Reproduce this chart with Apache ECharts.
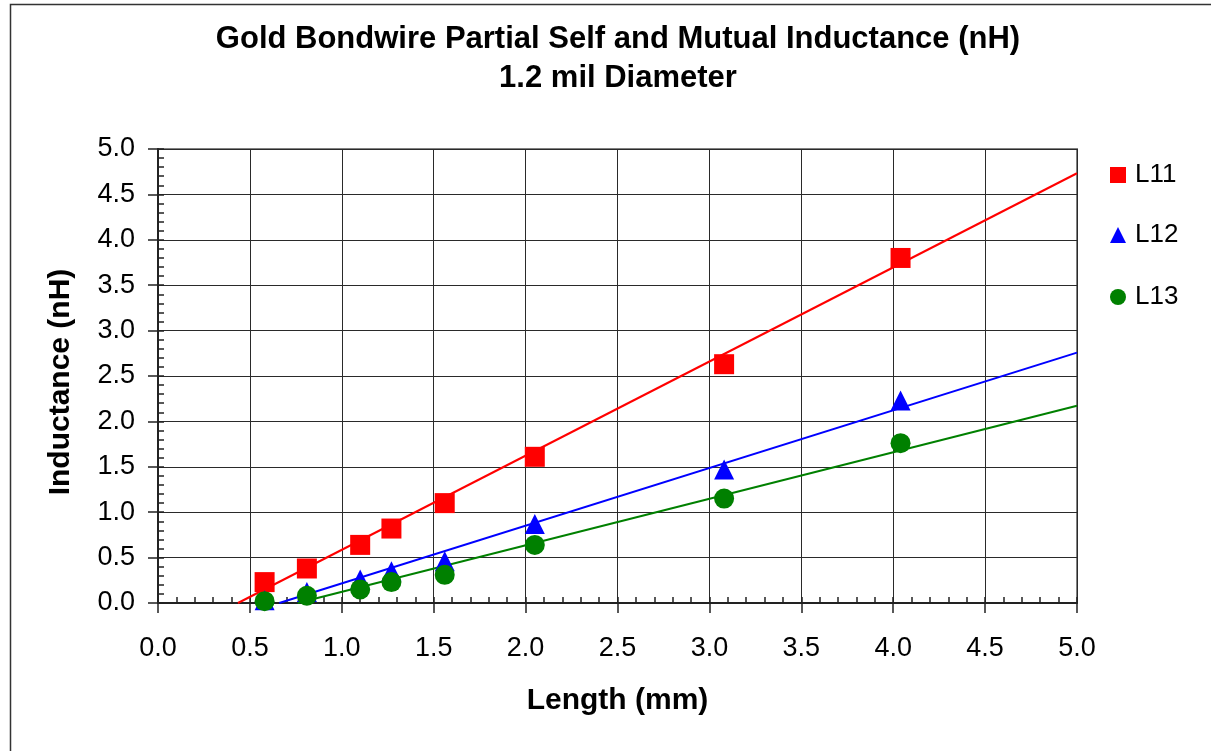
<!DOCTYPE html>
<html>
<head>
<meta charset="utf-8">
<script src="https://cdn.jsdelivr.net/npm/echarts@6/dist/echarts.min.js"></script>
<style>
  html, body { margin: 0; padding: 0; background: #fff; }
  #chart { width: 1211px; height: 751px; }
</style>
</head>
<body>
<div id="chart"></div>
<script>
// ---- data ----
const lengthMm = [0.58, 0.81, 1.10, 1.27, 1.56, 2.05, 3.08, 4.04];
const L11 = [0.23, 0.38, 0.64, 0.82, 1.10, 1.61, 2.63, 3.80];
const L12 = [0.03, 0.12, 0.26, 0.35, 0.46, 0.87, 1.47, 2.23];
const L13 = [0.02, 0.08, 0.15, 0.23, 0.31, 0.64, 1.15, 1.76];
// trendline end points (x, y)
const trendL11 = [[0.435, 0], [5.0, 4.733]];
const trendL12 = [[0.66, 0], [5.0, 2.757]];
const trendL13 = [[0.76, 0], [5.0, 2.173]];
const seriesNames = ['L11', 'L12', 'L13'];
const titleLine1 = 'Gold Bondwire Partial Self and Mutual Inductance (nH)';
const titleLine2 = '1.2 mil Diameter';
const xName = 'Length (mm)';
const yName = 'Inductance (nH)';

const FONT = '"Liberation Sans", Arial, sans-serif';
const colors = ['#FF0000', '#0000FF', '#008000'];
const symbols = ['rect', 'triangle', 'circle'];

function pts(ys) { return lengthMm.map((x, i) => [x, ys[i]]); }
const fmt = v => v.toFixed(1);

const chart = echarts.init(document.getElementById('chart'), null, { renderer: 'canvas' });

const mainAxisCommon = {
  type: 'value', min: 0, max: 5, interval: 0.5,
  axisLine: { show: true, onZero: false, lineStyle: { color: '#222', width: 2 } },
  axisTick: { show: true, inside: false, length: 10, lineStyle: { color: '#222', width: 1.5 } },
  splitLine: { show: true, lineStyle: { color: '#2a2a2a', width: 1 } },
  axisLabel: { fontFamily: FONT, fontSize: 27, color: '#000', formatter: fmt },
  nameTextStyle: { fontFamily: FONT, fontSize: 30, fontWeight: 'bold', color: '#000' },
  nameLocation: 'middle'
};
const minorAxisCommon = {
  type: 'value', min: 0, max: 5, interval: 0.5,
  axisLine: { show: false },
  axisTick: { show: true, inside: true, length: 6, lineStyle: { color: '#222', width: 1.5 } },
  minorTick: { show: true, splitNumber: 5, length: 6, lineStyle: { color: '#222', width: 1.5 } },
  splitLine: { show: false },
  axisLabel: { show: false }
};

const legendTops = [162, 222, 284];

chart.setOption({
  animation: false,
  backgroundColor: '#fff',
  grid: {
    left: 158, right: 134, top: 149, bottom: 148,
    show: true, borderColor: '#808080', borderWidth: 2, containLabel: false
  },
  graphic: [
    { type: 'rect', shape: { x: 10.5, y: 4.5, width: 1400, height: 1000 },
      style: { fill: null, stroke: '#333', lineWidth: 1.5 }, silent: true, z: -10 },
    { type: 'text', x: 618, y: 39, style: { text: titleLine1, fontFamily: FONT, fontSize: 31, fontWeight: 'bold',
      fill: '#000', align: 'center', verticalAlign: 'middle' } },
    { type: 'text', x: 618, y: 78, style: { text: titleLine2, fontFamily: FONT, fontSize: 31, fontWeight: 'bold',
      fill: '#000', align: 'center', verticalAlign: 'middle' } }
  ],
  legend: seriesNames.map((n, i) => ({
    data: [{ name: n, icon: symbols[i] }],
    left: 1110, top: legendTops[i], orient: 'vertical', padding: 0,
    itemWidth: 16, itemHeight: 16,
    textStyle: { fontFamily: FONT, fontSize: 26, color: '#000', padding: [0, 0, 0, 4] },
    selectedMode: false
  })),
  xAxis: [
    Object.assign({}, mainAxisCommon, {
      position: 'bottom', name: xName, nameGap: 83,
      axisLabel: Object.assign({}, mainAxisCommon.axisLabel, { margin: 32 })
    }),
    Object.assign({}, minorAxisCommon, { position: 'bottom' })
  ],
  yAxis: [
    Object.assign({}, mainAxisCommon, {
      position: 'left', name: yName, nameGap: 82, nameRotate: 90,
      nameTextStyle: Object.assign({}, mainAxisCommon.nameTextStyle, { padding: [0, 12, 0, 0] }),
      axisLabel: Object.assign({}, mainAxisCommon.axisLabel, { margin: 23 })
    }),
    Object.assign({}, minorAxisCommon, { position: 'left' })
  ],
  series: [
    { type: 'line', name: 'trend L11', data: trendL11, showSymbol: false, silent: true,
      lineStyle: { color: colors[0], width: 2 }, z: 2 },
    { type: 'line', name: 'trend L12', data: trendL12, showSymbol: false, silent: true,
      lineStyle: { color: colors[1], width: 2 }, z: 2 },
    { type: 'line', name: 'trend L13', data: trendL13, showSymbol: false, silent: true,
      lineStyle: { color: colors[2], width: 2 }, z: 2 },
    { type: 'scatter', name: 'L11', data: pts(L11), symbol: 'rect', symbolSize: 20,
      itemStyle: { color: colors[0], opacity: 1 }, z: 3 },
    { type: 'scatter', name: 'L12', data: pts(L12), symbol: 'triangle', symbolSize: 20,
      itemStyle: { color: colors[1], opacity: 1 }, z: 4 },
    { type: 'scatter', name: 'L13', data: pts(L13), symbol: 'circle', symbolSize: 20,
      itemStyle: { color: colors[2], opacity: 1 }, z: 5 }
  ]
});
</script>
</body>
</html>
